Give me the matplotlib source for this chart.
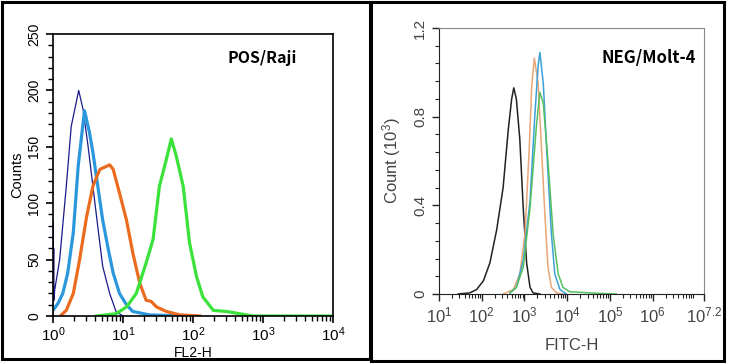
"""Two flow-cytometry histograms: POS/Raji (FL2-H) and NEG/Molt-4 (FITC-H)."""
import numpy as np
import matplotlib; matplotlib.use('Agg')
import matplotlib.pyplot as plt
from matplotlib.patches import Rectangle
from matplotlib.ticker import MultipleLocator, LogLocator, FixedLocator, NullFormatter

# ---------- data (x given as log10 position, y as counts) ----------
# left panel: POS/Raji, counts
navy_log = [0, 0, 0.005, 0.01, 0.014, 0.024, 0.095, 0.19, 0.26, 0.367, 0.43, 0.5, 0.57, 0.64, 0.71, 0.81, 0.9, 1.0]
navy_cnt = [0, 84, 30, 60, 14, 23, 50, 115, 168, 200, 183, 151, 115, 79, 44, 20, 4, 0]
blue_log = [0, 0.07, 0.14, 0.21, 0.29, 0.36, 0.45, 0.52, 0.57, 0.64, 0.71, 0.79, 0.86, 0.95, 1.05, 1.14, 1.38, 1.86]
blue_cnt = [5, 11, 20, 38, 74, 133, 182, 163, 145, 115, 85, 59, 38, 20, 10, 4, 1, 0]
orange_log = [0.12, 0.19, 0.29, 0.38, 0.48, 0.57, 0.67, 0.81, 0.86, 0.95, 1.05, 1.14, 1.24, 1.33, 1.40, 1.48, 1.62, 1.81, 2.1]
orange_cnt = [1, 5, 20, 50, 88, 115, 130, 134, 130, 109, 85, 56, 29, 14, 13, 8, 4, 1, 0]
green_log = [0.62, 0.9, 1.05, 1.19, 1.33, 1.43, 1.52, 1.62, 1.69, 1.76, 1.86, 1.95, 2.05, 2.14, 2.29, 2.48, 2.67, 2.86, 4.0]
green_cnt = [0, 2, 8, 20, 47, 68, 115, 139, 157, 142, 115, 65, 35, 17, 5, 4, 2, 0, 0]

# right panel: NEG/Molt-4, count (10^3)
ctrl_log = [1.45, 1.72, 1.88, 2.04, 2.19, 2.35, 2.50, 2.62, 2.70, 2.75, 2.81, 2.89, 2.97, 3.05, 3.13, 3.20, 3.36]
ctrl_val = [0, 0.005, 0.02, 0.06, 0.14, 0.29, 0.48, 0.74, 0.88, 0.93, 0.88, 0.70, 0.39, 0.14, 0.03, 0.005, 0]
tan_log = [2.50, 2.74, 2.89, 3.01, 3.11, 3.17, 3.23, 3.32, 3.40, 3.48, 3.55, 3.63, 3.75, 3.9]
tan_val = [0, 0.02, 0.09, 0.27, 0.65, 0.94, 1.065, 0.95, 0.65, 0.35, 0.12, 0.03, 0.005, 0]
sky_log = [2.66, 2.81, 2.97, 3.13, 3.24, 3.32, 3.36, 3.44, 3.52, 3.63, 3.71, 3.83, 3.98]
sky_val = [0.005, 0.03, 0.15, 0.42, 0.8, 1.03, 1.09, 0.95, 0.65, 0.27, 0.09, 0.02, 0]
lime_log = [2.66, 2.81, 2.97, 3.13, 3.28, 3.36, 3.44, 3.55, 3.67, 3.79, 3.90, 4.06, 4.84, 5.15]
lime_val = [0.005, 0.03, 0.12, 0.39, 0.76, 0.91, 0.86, 0.6, 0.27, 0.09, 0.03, 0.01, 0.002, 0]

W, H = 733, 363
plt.rcParams['font.family'] = ['Liberation Sans', 'DejaVu Sans']
plt.rcParams['mathtext.default'] = 'regular'
fig = plt.figure(figsize=(W/100, H/100), dpi=100)

def box(x0, y0, x1, y1):
    return [x0/W, 1-y1/H, (x1-x0)/W, (y1-y0)/H]

# panel frames
fig.patches.append(Rectangle((2/W, 1-359/H), 368/W, 357/H, transform=fig.transFigure,
                             fill=False, ec='black', lw=2.2))
fig.patches.append(Rectangle((371/W, 1-361/H), 353/W, 359/H, transform=fig.transFigure,
                             fill=False, ec='black', lw=2.2))

# ---------- left panel ----------
ax = fig.add_axes(box(53, 34, 333, 316))
ax.plot(10**np.array(navy_log), navy_cnt, c='#1b1a8a', lw=0.9)
ax.plot(10**np.array(blue_log), blue_cnt, c='#2b97dc', lw=2.3)
ax.plot(10**np.array(orange_log), orange_cnt, c='#ec6c1f', lw=2.3)
ax.plot(10**np.array(green_log), green_cnt, c='#3ae23a', lw=2.3)
ax.set_xscale('log'); ax.set_xlim(1, 1e4); ax.set_ylim(0, 250)
ax.yaxis.set_major_locator(MultipleLocator(50)); ax.yaxis.set_minor_locator(MultipleLocator(10))
ax.xaxis.set_minor_locator(LogLocator(subs=np.arange(2, 10))); ax.xaxis.set_minor_formatter(NullFormatter())
ax.tick_params(direction='out', length=5, width=1.2, labelsize=11, pad=2)
ax.tick_params(which='minor', direction='out', length=3.5, width=1.0)
ax.tick_params(axis='y', labelrotation=90, labelsize=10, pad=3.5)
for t in ax.get_yticklabels(): t.set_va('center')
for s in ax.spines.values(): s.set_linewidth(1.2)
ax.set_ylabel('Counts', fontsize=10.5, labelpad=2)
ax.set_xlabel('FL2-H', fontsize=10, labelpad=1)
ax.text(0.747, 0.915, 'POS/Raji', transform=ax.transAxes, ha='center', va='center',
        fontsize=11.5, fontweight='bold', family=['Noto Sans CJK SC', 'DejaVu Sans'])

# ---------- right panel ----------
gray = '#444444'
ax2 = fig.add_axes(box(439, 28, 704, 294))
ax2.plot(10**np.array(ctrl_log), ctrl_val, c='#222222', lw=1.1)
ax2.plot(10**np.array(tan_log), tan_val, c='#e9a676', lw=1.1)
ax2.plot(10**np.array(sky_log), sky_val, c='#3d9fd6', lw=1.1)
ax2.plot(10**np.array(lime_log), lime_val, c='#55c060', lw=1.1)
ax2.set_xscale('log'); ax2.set_xlim(10, 10**7.2); ax2.set_ylim(0, 1.2)
ax2.xaxis.set_major_locator(FixedLocator([10**k for k in range(1, 7)] + [10**7.2]))
ax2.set_xticklabels(['$10^{1}$', '$10^{2}$', '$10^{3}$', '$10^{4}$', '$10^{5}$', '$10^{6}$', '$10^{7.2}$'])
ax2.xaxis.set_minor_locator(LogLocator(subs=np.arange(2, 10), numticks=20)); ax2.xaxis.set_minor_formatter(NullFormatter())
ax2.yaxis.set_major_locator(FixedLocator([0, 0.4, 0.8, 1.2])); ax2.set_yticklabels(['0', '0.4', '0.8', '1.2'])
ax2.yaxis.set_minor_locator(MultipleLocator(0.08))
ax2.tick_params(direction='out', length=5, width=1.0, labelsize=12, colors='#222222', labelcolor=gray)
ax2.tick_params(which='minor', direction='out', length=3, width=0.8, colors='#222222')
ax2.tick_params(axis='y', labelrotation=90, labelsize=11)
for t in ax2.get_yticklabels(): t.set_va('center')
ax2.spines['top'].set_color('#888888'); ax2.spines['right'].set_color('#888888')
ax2.spines['left'].set_color('#222222'); ax2.spines['bottom'].set_color('#222222')
ax2.set_ylabel('Count ($10^3$)', fontsize=12, color=gray, labelpad=7)
ax2.set_xlabel('FITC-H', fontsize=12, color=gray, labelpad=9)
ax2.text(0.79, 0.887, 'NEG/Molt-4', transform=ax2.transAxes, ha='center', va='center',
         fontsize=12, fontweight='bold', family=['Noto Sans CJK SC', 'DejaVu Sans'])

fig.savefig('out.png', dpi=100)
